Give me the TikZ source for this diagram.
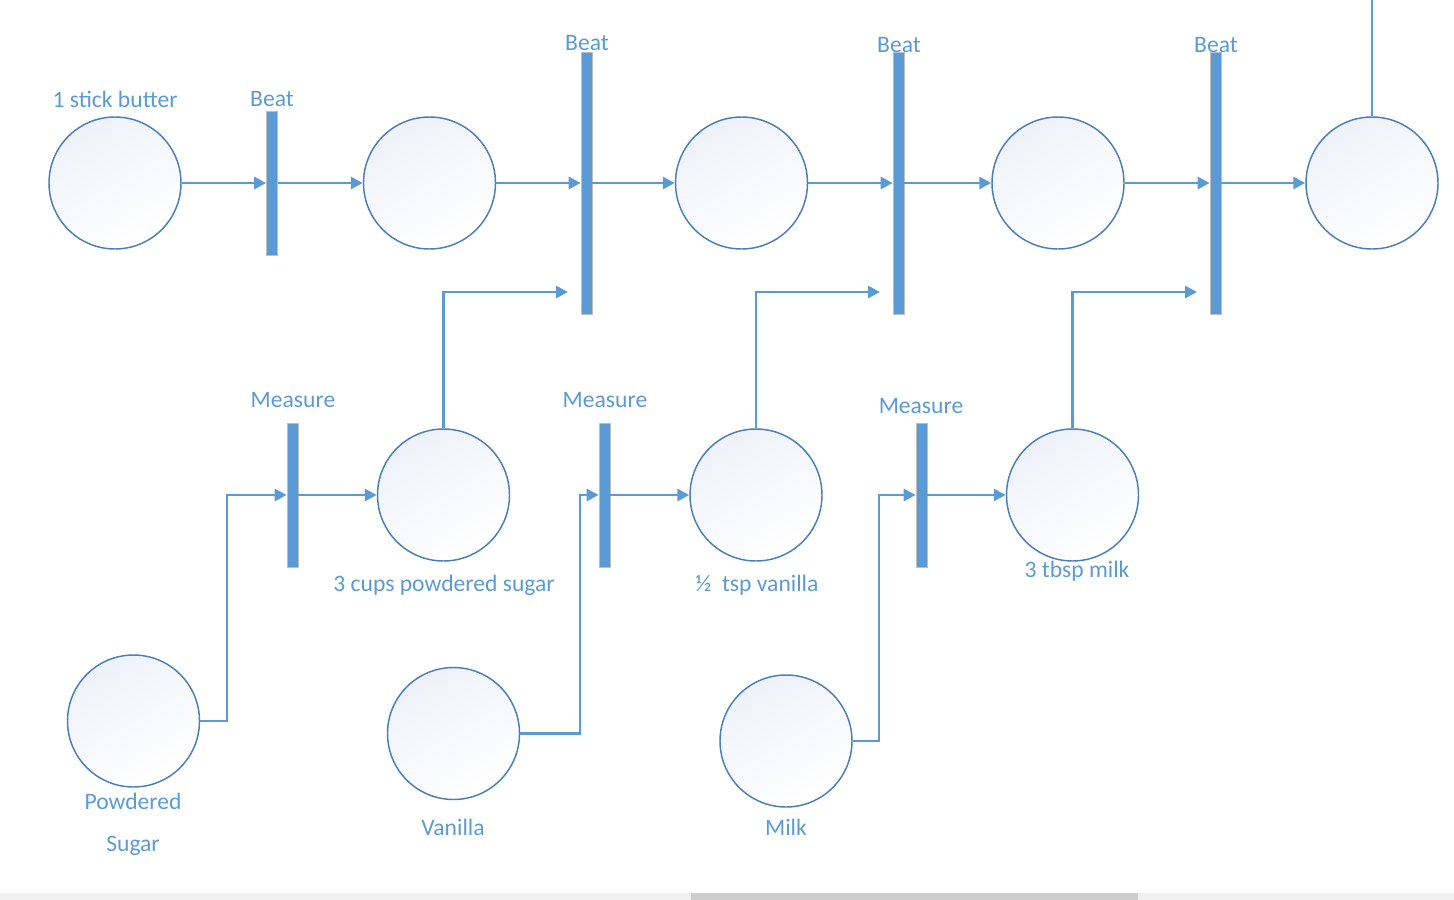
\documentclass[tikz,border=0pt]{standalone}
\usepackage{fontspec}
\setmainfont{Carlito}
\usetikzlibrary{arrows.meta}
\definecolor{lineblue}{RGB}{91,155,213}
\definecolor{circblue}{RGB}{74,126,187}
\definecolor{fillblue}{RGB}{238,242,249}
\definecolor{barline}{RGB}{190,190,190}
\definecolor{sbtrack}{RGB}{240,240,240}
\definecolor{sbthumb}{RGB}{205,205,205}
\begin{document}
\begin{tikzpicture}[x=0.75pt,y=-0.75pt,
  place/.style={circle,draw=circblue,line width=1.1pt,minimum size=99pt,inner sep=0pt,
    shading=axis,top color=fillblue,bottom color=white,shading angle=30},
  bar/.style={rectangle,fill=lineblue,draw=barline,line width=0.5pt,minimum width=8.25pt,minimum height=108pt,inner sep=0pt},
  tallbar/.style={bar,minimum height=196.5pt},
  lbl/.style={text=lineblue,font=\fontsize{17.7pt}{21pt}\selectfont,inner sep=0pt},
  flow/.style={draw=lineblue,line width=2.2pt,-{Triangle[length=9pt,width=9pt]}},
  plain/.style={draw=lineblue,line width=2.2pt}]
\useasboundingbox (0,0) rectangle (1454,900);
% scrollbar
\fill[sbtrack] (0,893) rectangle (1454,900);
\fill[sbthumb] (691,893) rectangle (1138,900);
% top row places
\node[place] (c1) at (115,183) {};
\node[place] (c2) at (429.5,183) {};
\node[place] (c3) at (741.5,183) {};
\node[place] (c4) at (1058,183) {};
\node[place] (c5) at (1372,183) {};
% top row transitions
\node[bar] (b1) at (272,183.5) {};
\node[tallbar] (b2) at (586.5,183.5) {};
\node[tallbar] (b3) at (898.5,183.5) {};
\node[tallbar] (b4) at (1215.5,183.5) {};
% middle row
\node[bar] (m1) at (292.5,495) {};
\node[bar] (m2) at (604.5,495) {};
\node[bar] (m3) at (921.5,495) {};
\node[place] (s1) at (443.5,495) {};
\node[place] (s2) at (756,495) {};
\node[place] (s3) at (1072.5,495) {};
% bottom row
\node[place] (r1) at (133.5,721) {};
\node[place] (r2) at (453.5,733.5) {};
\node[place] (r3) at (786,741) {};
% labels
\node[lbl] (l1) at (115,99) {1 stick butter};
\node[lbl] (lb1) at (272,99) {Beat};
\node[lbl] (lb2) at (587,43) {Beat};
\node[lbl] (lb3) at (899,45) {Beat};
\node[lbl] (lb4) at (1216,45) {Beat};
\node[lbl] (lm1) at (293,400) {Measure};
\node[lbl] (lm2) at (605,400) {Measure};
\node[lbl] (lm3) at (921,406) {Measure};
\node[lbl] (ls1) at (444,585) {3 cups powdered sugar};
\node[lbl] (ls2) at (757,585) {½\ \ tsp vanilla};
\node[lbl] (ls3) at (1077,571) {3 tbsp milk};
\node[lbl] (lr1a) at (133,801) {Powdered};
\node[lbl] (lr1b) at (133,846) {Sugar};
\node[lbl] (lr2) at (453,827) {Vanilla};
\node[lbl] (lr3) at (786,827) {Milk};
% coordinates
\coordinate (top) at (1372,0);
\coordinate (in2) at (568,292);
\coordinate (in3) at (880,292);
\coordinate (in4) at (1197,292);
\coordinate (k1) at (227,721);
\coordinate (k2) at (580,733.5);
\coordinate (k3) at (879,741);
% top row flow
\draw[flow] (c1.east) -- (c1.east -| b1.west);
\draw[flow] (c2.west -| b1.east) -- (c2.west);
\draw[flow] (c2.east) -- (c2.east -| b2.west);
\draw[flow] (c3.west -| b2.east) -- (c3.west);
\draw[flow] (c3.east) -- (c3.east -| b3.west);
\draw[flow] (c4.west -| b3.east) -- (c4.west);
\draw[flow] (c4.east) -- (c4.east -| b4.west);
\draw[flow] (c5.west -| b4.east) -- (c5.west);
\draw[plain] (c5.north) -- (top);
% middle to top
\draw[flow] (s1.north) |- (in2);
\draw[flow] (s2.north) |- (in3);
\draw[flow] (s3.north) |- (in4);
% middle flow
\draw[flow] (m1.east) -- (s1);
\draw[flow] (m2.east) -- (s2);
\draw[flow] (m3.east) -- (s3);
% bottom to middle
\draw[flow] (r1.east) -- (k1) |- (m1.west);
\draw[flow] (r2.east) -- (k2) |- (m2.west);
\draw[flow] (r3.east) -- (k3) |- (m3.west);
\end{tikzpicture}
\end{document}
